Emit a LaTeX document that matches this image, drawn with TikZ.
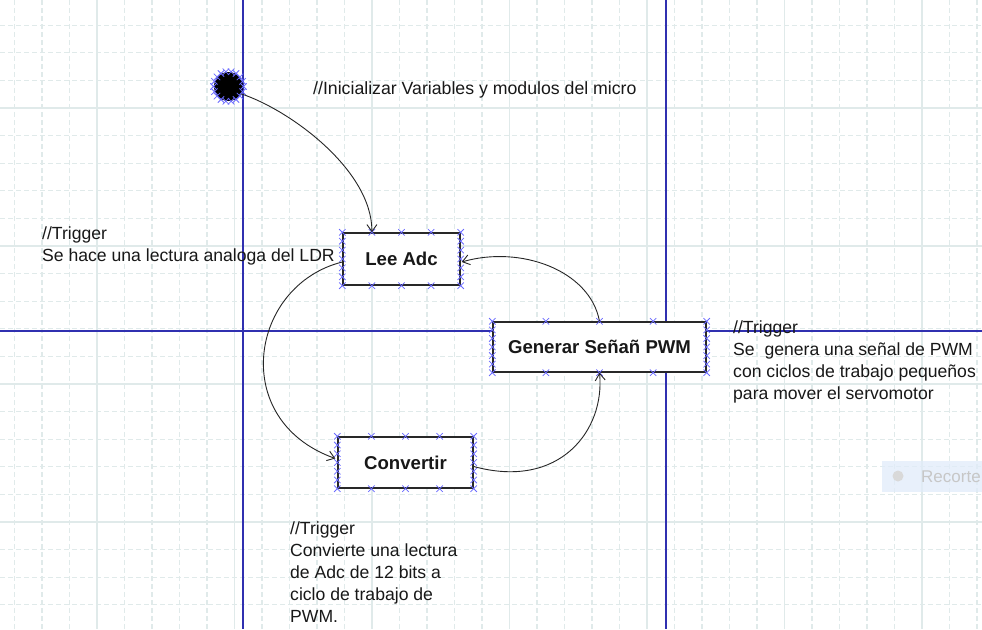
\documentclass[tikz,border=0pt]{standalone}
\usepackage{fontspec}
\setmainfont{Liberation Sans}
\usetikzlibrary{arrows.meta,calc}
\definecolor{gridc}{RGB}{224,234,234}
\definecolor{axisc}{RGB}{48,48,176}
\definecolor{crossc}{RGB}{105,105,255}
\definecolor{txtc}{RGB}{24,24,24}
\definecolor{boxc}{RGB}{40,40,40}
\definecolor{snipc}{RGB}{225,236,250}
\newcommand\drawboxcrosses[1]{%
  \foreach \t in {0,0.25,0.5,0.75,1}{
    \pic at ($(#1.north west)!\t!(#1.north east)$) {crossmk};
    \pic at ($(#1.south west)!\t!(#1.south east)$) {crossmk};}
  \foreach \t in {0.1667,0.3333,0.5,0.6667,0.8333}{
    \pic at ($(#1.north west)!\t!(#1.south west)$) {crossmk};
    \pic at ($(#1.north east)!\t!(#1.south east)$) {crossmk};}
}
\begin{document}
\begin{tikzpicture}[x=1pt,y=-1pt,
  minorgrid/.style={gridc, line width=1.1pt, dash pattern=on 5pt off 3pt},
  majorgrid/.style={gridc, line width=1.3pt},
  axis/.style={axisc, line width=1.8pt},
  statebox/.style={draw=boxc, line width=1.4pt, fill=white, rectangle, inner sep=0pt,
    font=\fontsize{18.6}{22}\selectfont\bfseries, text=txtc},
  comment/.style={anchor=north west, inner sep=0pt, align=left,
    font=\fontsize{17.6}{22}\selectfont, text=txtc},
  conn/.style={draw=black!85, line width=0.9pt, -{Straight Barb[length=7pt,width=10pt]}},
  crossmk/.pic={\draw[crossc, line width=0.75pt] (-3.2,-3.2)--(3.2,3.2) (-3.2,3.2)--(3.2,-3.2);}
]
\useasboundingbox (0,0) rectangle (982,629);
\fill[white] (0,0) rectangle (982,629);
\begin{scope}
\clip (0,0) rectangle (982,629);
\foreach \i in {-3,...,32} \draw[minorgrid] ({97+27.5*\i},0) -- ({97+27.5*\i},629);
\foreach \j in {-3,...,19} \draw[minorgrid] (0,{108+27.6*\j}) -- (982,{108+27.6*\j});
\foreach \i in {0,...,6} \draw[majorgrid] ({97+137.5*\i},0) -- ({97+137.5*\i},629);
\foreach \j in {0,...,3} \draw[majorgrid] (0,{108+138*\j}) -- (982,{108+138*\j});
\draw[axis] (243,0) -- (243,629);
\draw[axis] (666,0) -- (666,629);
\draw[axis] (0,331) -- (982,331);
\end{scope}

% start state
\node[circle, fill=black, minimum size=29pt, inner sep=0pt] (start) at (228.5,86.5) {};
\foreach \a in {0,20,...,340} \pic at ($(start.center)+(\a:15)$) {crossmk};

% states
\node[statebox, minimum width=117pt, minimum height=52pt] (lee) at (401.5,259) {Lee Adc};
\node[statebox, minimum width=213pt, minimum height=50pt] (gen) at (599.5,347) {Generar Señañ PWM};
\node[statebox, minimum width=135pt, minimum height=51pt] (conv) at (405.5,462.5) {Convertir};
\drawboxcrosses{lee}
\drawboxcrosses{gen}
\drawboxcrosses{conv}

% transitions
\draw[conn] (start.-30) .. controls (290,110) and (372,170) .. ($(lee.north west)!0.25!(lee.north east)$);
\draw[conn] ($(lee.west)+(0,3)$) .. controls (250,285) and (228,420) .. ($(conv.west)+(-2,-4)$);
\draw[conn] ($(conv.east)+(0,4)$) .. controls (560,490) and (605,430) .. (gen.south);
\draw[conn] (gen.north) .. controls (590,270) and (520,245) .. ($(lee.east)+(1,3)$);

% comments
\node[anchor=base west, inner sep=0pt, font=\fontsize{17.7}{22}\selectfont, text=txtc] (init) at (313,94) {//Inicializar Variables y modulos del micro};
\node[comment] (c1) at (42,226.6) {//Trigger\\Se hace una lectura analoga del LDR};
\node[comment] (c2) at (733,320.6) {//Trigger\\Se~ genera una señal de PWM\\con ciclos de trabajo pequeños\\para mover el servomotor};
\node[comment] (c3) at (290,521.6) {//Trigger\\Convierte una lectura\\de Adc de 12 bits a\\ciclo de trabajo de\\PWM.};

% snipping overlay
\begin{scope}
\clip (0,0) rectangle (982,629);
\fill[snipc, opacity=0.75] (882,461) rectangle (990,492);
\fill[black!15] (898,476) circle (5.5);
\node[anchor=base west, inner sep=0pt, font=\fontsize{17}{22}\selectfont, text=black!22] (snip) at (921,482) {Recorte};
\end{scope}
\end{tikzpicture}
\end{document}
